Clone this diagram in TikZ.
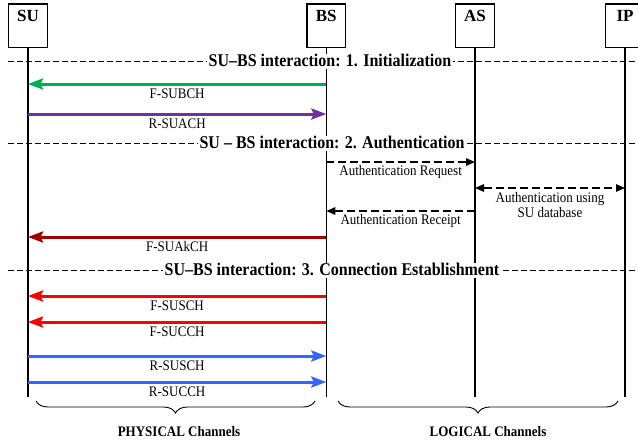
\documentclass[tikz,border=0pt]{standalone}
\usepackage{fontspec}
\setmainfont{Liberation Serif}
\usetikzlibrary{arrows.meta,decorations.pathreplacing}
\definecolor{cgreen}{RGB}{0,176,80}
\definecolor{cpurple}{RGB}{112,48,160}
\definecolor{cdarkred}{RGB}{160,0,0}
\definecolor{cred}{RGB}{255,0,0}
\definecolor{cblue}{RGB}{51,102,255}
\newcommand{\tallt}[1]{\scalebox{1}[1.12]{#1}}
\begin{document}
\begin{tikzpicture}[x=1pt,y=-1pt,
  actor/.style={draw, line width=1.3pt, minimum width=38.4pt, minimum height=43.4pt,
    inner sep=0pt, anchor=north, font=\bfseries\fontsize{17}{17}\selectfont,
    text height=11.5pt, text depth=20.5pt},
  lifeline/.style={line width=1.4pt},
  sep/.style={line width=0.9pt, dash pattern=on 6pt off 3pt},
  header/.style={fill=white, inner sep=2pt, font=\bfseries\fontsize{16}{16}\selectfont,
    text height=11pt, text depth=0pt},
  msg/.style={line width=3pt, -{Stealth[length=15pt,width=11pt,inset=2.5pt]}},
  dmsg/.style={line width=1.4pt, dash pattern=on 8pt off 4pt,
    -{Triangle[length=9pt,width=7.5pt]}},
  lab/.style={font=\fontsize{13}{15}\selectfont, inner sep=0pt, anchor=base, midway},
  brace/.style={line width=0.9pt, decorate, decoration={brace, mirror, amplitude=12pt}},
  bottom/.style={font=\bfseries\fontsize{13}{15}\selectfont, inner sep=0pt, anchor=base}
]
\useasboundingbox (0,0) rectangle (638,445);

% actors
\node[actor] (SU) at (28,3.3) {SU};
\node[actor] (BS) at (326.3,3.3) {BS};
\node[actor] (AS) at (475,3.3) {AS};
\node[actor] (IP) at (625,3.3) {IP};

% lifeline ends
\coordinate (SUe) at (28,397);
\coordinate (BSe) at (326.3,397);
\coordinate (ASe) at (475,397);
\coordinate (IPe) at (625,397);
\draw[lifeline] (SU.south) -- (SUe);
\draw[lifeline] (BS.south) -- (BSe);
\draw[lifeline] (AS.south) -- (ASe);
\draw[lifeline] (IP.south) -- (IPe);

% separators
\coordinate (s1a) at (8,61);  \coordinate (s1b) at (638,61);
\coordinate (s2a) at (8,143); \coordinate (s2b) at (638,143);
\coordinate (s3a) at (8,270); \coordinate (s3b) at (638,270);
\draw[sep] (s1a) -- (s1b);
\draw[sep] (s2a) -- (s2b);
\draw[sep] (s3a) -- (s3b);
\node[header] (h1) at (330,61) {\tallt{SU–BS interaction: 1. Initialization}};
\node[header] (h2) at (332,143) {\tallt{SU – BS interaction: 2. Authentication}};
\node[header] (h3) at (332,270) {\tallt{SU–BS interaction: 3. Connection Establishment}};

% 1. Initialization
\draw[msg, cgreen] (BS |- 0,84) -- (SU |- 0,84) node[lab, text=black, yshift=-14.5pt] {\tallt{F-SUBCH}};
\draw[msg, cpurple] (SU |- 0,114) -- (BS |- 0,114) node[lab, text=black, yshift=-14.5pt] {\tallt{R-SUACH}};

% 2. Authentication
\draw[dmsg] (BS |- 0,162) -- (AS |- 0,162) node[lab, yshift=-13.5pt] {\tallt{Authentication Request}};
\draw[dmsg, {Triangle[length=9pt,width=7.5pt]}-{Triangle[length=9pt,width=7.5pt]}] (AS |- 0,188) -- (IP |- 0,188)
  node[midway, anchor=north, yshift=-3.5pt, inner sep=0pt, align=center,
       font=\fontsize{13}{15}\selectfont] {\tallt{Authentication using}\\\tallt{SU database}};
\draw[dmsg] (AS |- 0,211) -- (BS |- 0,211) node[lab, yshift=-13.5pt] {\tallt{Authentication Receipt}};
\draw[msg, cdarkred] (BS |- 0,237) -- (SU |- 0,237) node[lab, text=black, yshift=-14.5pt] {\tallt{F-SUAkCH}};

% 3. Connection establishment
\draw[msg, cred] (BS |- 0,296) -- (SU |- 0,296) node[lab, text=black, yshift=-14.5pt] {\tallt{F-SUSCH}};
\draw[msg, cred] (BS |- 0,322) -- (SU |- 0,322) node[lab, text=black, yshift=-14.5pt] {\tallt{F-SUCCH}};
\draw[msg, cblue] (SU |- 0,356) -- (BS |- 0,356) node[lab, text=black, yshift=-14.5pt] {\tallt{R-SUSCH}};
\draw[msg, cblue] (SU |- 0,382) -- (BS |- 0,382) node[lab, text=black, yshift=-14.5pt] {\tallt{R-SUCCH}};

% braces
\coordinate (b1a) at (36,401); \coordinate (b1b) at (315,401);
\coordinate (b2a) at (338,401); \coordinate (b2b) at (618,401);
\draw[brace] (b1a) -- (b1b);
\draw[brace] (b2a) -- (b2b);
\node[bottom] (phys) at (179,436.5) {\tallt{PHYSICAL Channels}};
\node[bottom] (logi) at (488,436.5) {\tallt{LOGICAL Channels}};
\end{tikzpicture}
\end{document}
